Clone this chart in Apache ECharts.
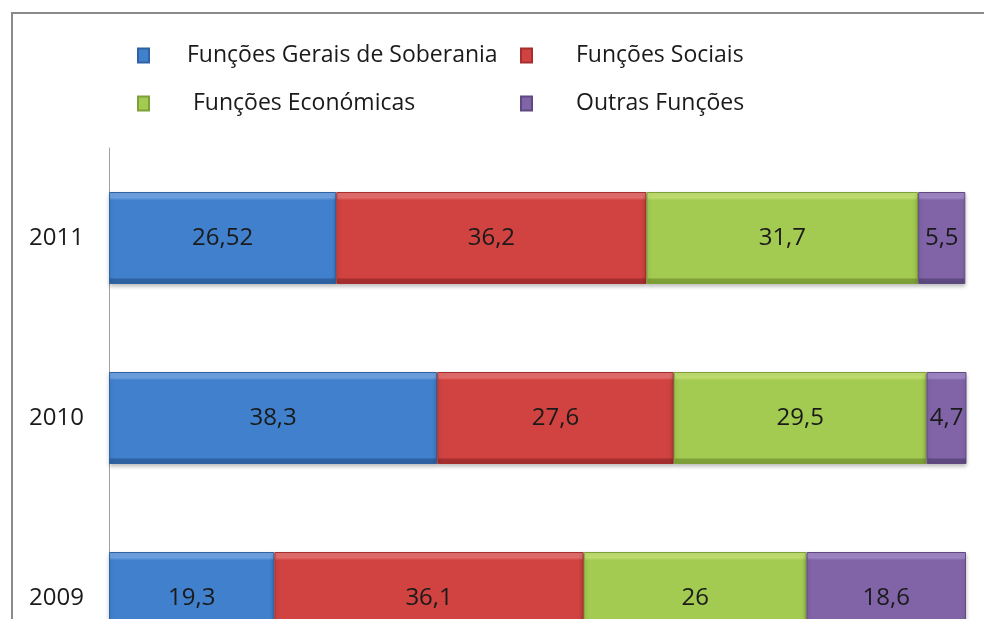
<!DOCTYPE html>
<html>
<head>
<meta charset="utf-8">
<script src="https://cdn.jsdelivr.net/npm/echarts@6/dist/echarts.min.js"></script>
<style>
  html, body { margin: 0; padding: 0; background: #fff; }
  #chart-root { width: 984px; height: 619px; }
</style>
</head>
<body>
<div id="chart-root"></div>
<script>
// anos (de baixo para cima)
const years = ['2009', '2010', '2011']
const seriesNames = ['Funções Gerais de Soberania', 'Funções Sociais', 'Funções Económicas', 'Outras Funções']
const soberania = [19.3, 38.3, 26.52]
const sociais = [36.1, 27.6, 36.2]
const economicas = [26, 29.5, 31.7]
const outras = [18.6, 4.7, 5.5]

// cores: [luz, base, sombra]
const palette = [
  ['#6ea3e2', '#4080cd', '#2f62a3'],
  ['#e46e6c', '#d04341', '#a52f2e'],
  ['#c2e071', '#a3ca51', '#7fa038'],
  ['#a087c6', '#8064a7', '#5e4a80']
]

function bevel ([light, base, dark]) {
  return {
    type: 'linear', x: 0, y: 0, x2: 0, y2: 1,
    colorStops: [
      {offset: 0, color: light},
      {offset: 0.06, color: light},
      {offset: 0.09, color: base},
      {offset: 0.93, color: base},
      {offset: 0.95, color: dark},
      {offset: 1, color: dark}
    ]
  }
}

const dataSets = [soberania, sociais, economicas, outras]
const fontFamily = '"Open Sans", "Noto Sans", sans-serif'

const chart = echarts.init(document.getElementById('chart-root'))

// legenda em 2x2, cada item posicionado
const legendPos = [
  {left: 132, top: 39, name: seriesNames[0], pad: 33},
  {left: 515, top: 39, name: seriesNames[1], pad: 39},
  {left: 132, top: 87, name: seriesNames[2], pad: 39},
  {left: 515, top: 87, name: seriesNames[3], pad: 39}
]

const option = {
  animation: false,
  textStyle: {fontFamily},
  graphic: [{
    type: 'rect',
    shape: {x: 12, y: 13, width: 1100, height: 800},
    style: {fill: 'none', stroke: '#8a8a8a', lineWidth: 2}
  }],
  legend: legendPos.map(l => ({
    left: l.left,
    top: l.top,
    data: [l.name],
    icon: 'rect',
    itemWidth: 11,
    itemHeight: 14,
    selectedMode: false,
    textStyle: {
      fontFamily,
      fontSize: 23,
      color: '#1a1a1a',
      padding: [0, 0, 0, l.pad]
    }
  })),
  grid: {
    left: 109,
    right: 18,
    top: 148,
    bottom: -69,
    outerBoundsMode: 'none',
    containLabel: false
  },
  xAxis: {
    type: 'value',
    min: 0,
    max: 100,
    show: false,
    splitLine: {show: false}
  },
  yAxis: {
    type: 'category',
    data: years,
    axisLine: {lineStyle: {color: '#a0a0a0', width: 1}},
    axisTick: {show: false},
    axisLabel: {
      margin: 25,
      fontSize: 24,
      color: '#1a1a1a',
      fontFamily
    }
  },
  series: seriesNames.map((name, i) => ({
    name,
    type: 'bar',
    stack: 'total',
    barWidth: 92,
    data: dataSets[i],
    itemStyle: {
      color: bevel(palette[i]),
      borderColor: palette[i][2],
      borderWidth: 1,
      shadowBlur: 4,
      shadowOffsetY: 2,
      shadowColor: 'rgba(0,0,0,0.25)'
    },
    label: {
      show: true,
      position: 'inside',
      fontSize: 24,
      color: '#1a1a1a',
      fontFamily,
      formatter: p => String(p.value).replace('.', ',')
    }
  }))
}

chart.setOption(option)
</script>
</body>
</html>
